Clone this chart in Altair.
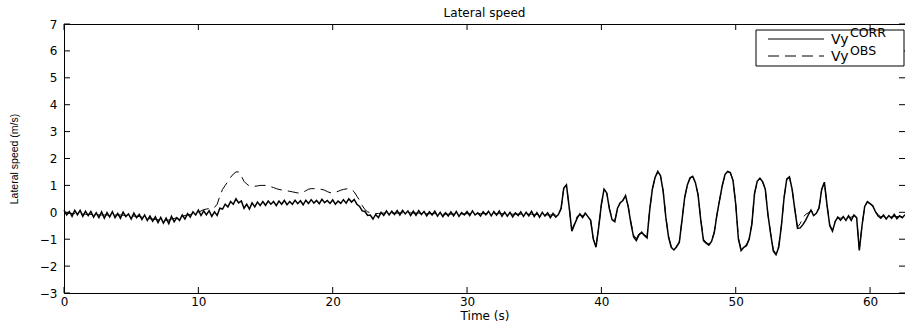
import altair as alt
import pandas as pd

# ---------------- data ----------------
SAMPLE_PERIOD = 0.2  # seconds between samples

vy_corr = [
    0.08, -0.1, 0.03, -0.15, 0.07,
    -0.09, 0.07, -0.15, 0.04, -0.12,
    0.03, -0.18, -0.02, -0.2, 0.02,
    -0.22, -0.01, -0.17, 0.02, -0.2,
    -0.04, -0.22, 0.01, -0.16, -0.06,
    -0.25, -0.03, -0.2, -0.08, -0.27,
    -0.1, -0.3, -0.14, -0.33, -0.17,
    -0.38, -0.19, -0.4, -0.22, -0.42,
    -0.15, -0.35, -0.2, -0.3, -0.1,
    -0.25, -0.05, -0.18, 0.02, -0.1,
    0.08, -0.12, 0.05, -0.1, 0.06,
    -0.15, 0.02, -0.12, 0.15, 0.12,
    0.3, 0.2, 0.4, 0.3, 0.5,
    0.35, 0.42, 0.15, 0.3, 0.12,
    0.35, 0.2, 0.38, 0.25, 0.4,
    0.26, 0.42, 0.3, 0.4, 0.25,
    0.42, 0.3, 0.44, 0.28, 0.4,
    0.3, 0.45, 0.32, 0.43, 0.28,
    0.45, 0.33, 0.47, 0.34, 0.44,
    0.32, 0.48, 0.36, 0.44, 0.33,
    0.46, 0.3, 0.42, 0.33, 0.47,
    0.34, 0.5, 0.38, 0.48, 0.3,
    0.22, 0.05, 0.03, -0.12, -0.1,
    -0.25, -0.08, -0.2, 0.0, -0.12,
    0.05, -0.1, 0.04, -0.08, 0.06,
    -0.1, 0.07, -0.06, 0.05, -0.12,
    0.04, -0.11, 0.06, -0.08, 0.03,
    -0.13, 0.02, -0.1, 0.04, -0.14,
    0.0, -0.16, -0.02, -0.14, 0.02,
    -0.13, 0.03, -0.15, -0.01, -0.1,
    0.03, -0.12, 0.05, -0.1, -0.02,
    -0.14, 0.02, -0.09, 0.04, -0.13,
    0.03, -0.11, 0.05, -0.15, 0.01,
    -0.14, 0.0, -0.17, -0.02, -0.12,
    0.02, -0.15, 0.0, -0.13, 0.04,
    -0.16, -0.01, -0.18, 0.0, -0.14,
    -0.02, -0.2, -0.04, -0.18, -0.08,
    0.15, 0.9, 1.02, 0.2, -0.7,
    -0.45, -0.22, -0.06, -0.2, -0.03,
    -0.16, -0.3, -1.0, -1.3, -0.55,
    0.3, 0.86, 0.72, 0.12, -0.28,
    -0.35, 0.15, 0.36, 0.44, 0.62,
    0.2, -0.42, -0.92, -1.05, -0.84,
    -0.74, -0.86, -0.95, 0.1, 0.88,
    1.3, 1.52, 1.36, 0.78, -0.2,
    -0.92, -1.3, -1.4, -1.28, -1.12,
    -0.3, 0.55, 1.02, 1.28, 1.34,
    1.1, 0.64, -0.3, -1.05, -1.15,
    -1.22, -1.08, -0.76, -0.1, 0.46,
    1.0, 1.4, 1.52, 1.48, 1.18,
    0.3, -1.0, -1.42, -1.3, -1.24,
    -1.0, -0.45, 0.7, 1.15, 1.27,
    1.14, 0.86, -0.1, -0.8, -1.45,
    -1.58, -1.3, -0.5, 0.55, 1.24,
    1.32, 0.85, 0.1, -0.6, -0.58,
    -0.46, -0.3, -0.1, 0.08, -0.12,
    -0.04, 0.16, 0.86, 1.12, 0.25,
    -0.5, -0.7, -0.35, -0.18, -0.3,
    -0.16, -0.3, -0.13, -0.3, -0.1,
    -0.2, -1.42, -0.5, 0.22, 0.4,
    0.32, 0.24, 0.02, -0.14, -0.22,
    -0.1, -0.25, -0.12, -0.22, -0.08,
    -0.24, -0.13, -0.2, -0.09,
]

vy_obs = [
    -0.02, -0.03, -0.04, -0.04, -0.05,
    -0.05, -0.06, -0.07, -0.07, -0.08,
    -0.08, -0.09, -0.09, -0.1, -0.1,
    -0.1, -0.1, -0.1, -0.1, -0.1,
    -0.1, -0.1, -0.11, -0.11, -0.12,
    -0.13, -0.14, -0.15, -0.16, -0.18,
    -0.2, -0.22, -0.24, -0.25, -0.27,
    -0.28, -0.29, -0.3, -0.3, -0.29,
    -0.25, -0.23, -0.2, -0.18, -0.15,
    -0.12, -0.1, -0.08, -0.05, -0.03,
    0.0, 0.05, 0.1, 0.12, 0.14,
    0.14, 0.18, 0.3, 0.6, 0.85,
    1.0, 1.15, 1.3, 1.42, 1.5,
    1.5, 1.35, 1.15, 1.05, 0.98,
    0.97, 0.97, 0.98, 1.0, 1.0,
    1.0, 0.98, 0.95, 0.92, 0.88,
    0.85, 0.83, 0.82, 0.8, 0.78,
    0.76, 0.74, 0.72, 0.72, 0.75,
    0.8, 0.86, 0.88, 0.88, 0.87,
    0.86, 0.85, 0.82, 0.77, 0.73,
    0.72, 0.74, 0.78, 0.82, 0.85,
    0.87, 0.88, 0.85, 0.76, 0.6,
    0.45, 0.25, 0.1, 0.02, -0.02,
    -0.05, -0.05, -0.04, -0.04, -0.03,
    -0.03, -0.03, -0.03, -0.03, -0.03,
    -0.02, -0.02, -0.02, -0.02, -0.02,
    -0.03, -0.03, -0.03, -0.03, -0.03,
    -0.05, -0.05, -0.05, -0.05, -0.05,
    -0.07, -0.07, -0.07, -0.07, -0.07,
    -0.06, -0.06, -0.06, -0.06, -0.06,
    -0.05, -0.05, -0.05, -0.05, -0.05,
    -0.05, -0.05, -0.05, -0.05, -0.05,
    -0.05, -0.05, -0.05, -0.05, -0.05,
    -0.07, -0.07, -0.07, -0.07, -0.07,
    -0.07, -0.07, -0.07, -0.07, -0.07,
    -0.08, -0.08, -0.08, -0.08, -0.08,
    -0.1, -0.1, -0.1, -0.1, -0.1,
    0.12, 0.88, 1.0, 0.22, -0.66,
    -0.42, -0.15, -0.1, -0.12, -0.1,
    -0.15, -0.3, -0.98, -1.28, -0.55,
    0.28, 0.84, 0.72, 0.14, -0.25,
    -0.3, 0.12, 0.34, 0.45, 0.6,
    0.22, -0.36, -0.85, -0.98, -0.8,
    -0.72, -0.82, -0.92, 0.12, 0.86,
    1.28, 1.5, 1.36, 0.8, -0.18,
    -0.9, -1.28, -1.36, -1.26, -1.1,
    -0.28, 0.55, 1.0, 1.26, 1.32,
    1.1, 0.66, -0.28, -1.0, -1.12,
    -1.18, -1.06, -0.74, -0.1, 0.45,
    0.98, 1.38, 1.5, 1.46, 1.18,
    0.32, -0.96, -1.38, -1.28, -1.2,
    -0.98, -0.42, 0.7, 1.13, 1.25,
    1.13, 0.86, -0.08, -0.78, -1.4,
    -1.52, -1.26, -0.48, 0.55, 1.22,
    1.3, 0.85, 0.12, -0.55, -0.42,
    -0.2, -0.08, -0.02, 0.06, 0.0,
    0.0, 0.16, 0.84, 1.1, 0.26,
    -0.46, -0.66, -0.33, -0.2, -0.22,
    -0.2, -0.18, -0.2, -0.18, -0.12,
    -0.2, -1.36, -0.5, 0.2, 0.38,
    0.32, 0.24, 0.04, -0.1, -0.16,
    -0.16, -0.16, -0.16, -0.16, -0.16,
    -0.16, -0.16, -0.16, -0.16,
]

x_ticks = [0, 10, 20, 30, 40, 50, 60]
y_ticks = [-3, -2, -1, 0, 1, 2, 3, 4, 5, 6, 7]
x_domain = [0, 62.6]
y_domain = [-3, 7]
legend_names = ["CORR", "OBS"]

# ---------------- layout / style ----------------
W, H = 841, 269
FONT = "DejaVu Sans"
TICK = 6

time_corr = [round(i * SAMPLE_PERIOD, 1) for i in range(len(vy_corr))]
time_obs = [round(i * SAMPLE_PERIOD, 1) for i in range(len(vy_obs))]
df_corr = pd.DataFrame({"t": time_corr, "v": vy_corr})
df_obs = pd.DataFrame({"t": time_obs, "v": vy_obs})
df_xt = pd.DataFrame({"t": x_ticks})
df_yt = pd.DataFrame({"v": y_ticks})
df_one = pd.DataFrame({"k": [0]})

x_scale = alt.Scale(domain=x_domain, nice=False, zero=False)
y_scale = alt.Scale(domain=y_domain, nice=False, zero=False)

x_axis = alt.Axis(
    values=x_ticks, title="Time (s)", domain=False, ticks=False, tickSize=0,
    grid=False, labelFont=FONT, labelFontSize=12, labelColor="black",
    labelPadding=3, labelFlush=False, titleFont=FONT, titleFontSize=12,
    titleFontWeight="normal", titleColor="black", titlePadding=3,
)
y_axis = alt.Axis(
    values=y_ticks, title="Lateral speed (m/s)", domain=False, ticks=False,
    tickSize=0, grid=False, labelFont=FONT, labelFontSize=12,
    labelColor="black", labelPadding=7, labelFlush=False,
    titleFont="Liberation Sans", titleFontSize=10.5, titleFontWeight="normal",
    titleColor="black", titlePadding=20,
)

X = alt.X("t:Q", scale=x_scale, axis=x_axis)
Y = alt.Y("v:Q", scale=y_scale, axis=y_axis)

obs_line = alt.Chart(df_obs).mark_line(
    color="black", strokeWidth=1, strokeDash=[11, 6]
).encode(x=X, y=Y)

corr_line = alt.Chart(df_corr).mark_line(
    color="black", strokeWidth=1.5
).encode(x=X, y=Y)

bottom_ticks = alt.Chart(df_xt).mark_rule(color="black").encode(
    x=X, y=alt.value(H), y2=alt.value(H - TICK))
top_ticks = alt.Chart(df_xt).mark_rule(color="black").encode(
    x=X, y=alt.value(0), y2=alt.value(TICK))
left_ticks = alt.Chart(df_yt).mark_rule(color="black").encode(
    y=Y, x=alt.value(0), x2=alt.value(TICK))
right_ticks = alt.Chart(df_yt).mark_rule(color="black").encode(
    y=Y, x=alt.value(W - TICK), x2=alt.value(W))

# legend (drawn by hand so the superscripts can be reproduced)
LX0, LX1, LY0, LY1 = 692, 840, 6, 42
legend_box = alt.Chart(df_one).mark_rect(
    fill="white", stroke="black", strokeWidth=1
).encode(x=alt.value(LX0), x2=alt.value(LX1), y=alt.value(LY0), y2=alt.value(LY1))
leg_solid = alt.Chart(df_one).mark_rule(color="black", strokeWidth=1).encode(
    x=alt.value(704), x2=alt.value(760), y=alt.value(15))
leg_dash = alt.Chart(df_one).mark_rule(
    color="black", strokeWidth=1, strokeDash=[11, 6]
).encode(x=alt.value(704), x2=alt.value(760), y=alt.value(32))

def leg_text(txt, x, y, size):
    return alt.Chart(df_one).mark_text(
        align="left", baseline="alphabetic", font=FONT, fontSize=size,
        color="black"
    ).encode(x=alt.value(x), y=alt.value(y), text=alt.value(txt))

legend_layers = [
    legend_box, leg_solid, leg_dash,
    leg_text("Vy", 767, 20, 14), leg_text(legend_names[0], 786, 13, 12.5),
    leg_text("Vy", 767, 37, 14), leg_text(legend_names[1], 786, 31, 12.5),
]

chart = alt.layer(
    obs_line, corr_line, bottom_ticks, top_ticks, left_ticks, right_ticks,
    *legend_layers,
).properties(
    width=W, height=H,
    title=alt.TitleParams(
        "Lateral speed", font=FONT, fontSize=12, fontWeight="normal",
        color="black", anchor="middle", offset=-2,
    ),
    padding={"left": 64, "top": 24, "right": 0, "bottom": 29},
    autosize=alt.AutoSizeParams(type="none"),
    background="white",
).configure_view(stroke="black", strokeWidth=1)

chart.save("out.html", embed_options={"renderer": "svg", "actions": False})
